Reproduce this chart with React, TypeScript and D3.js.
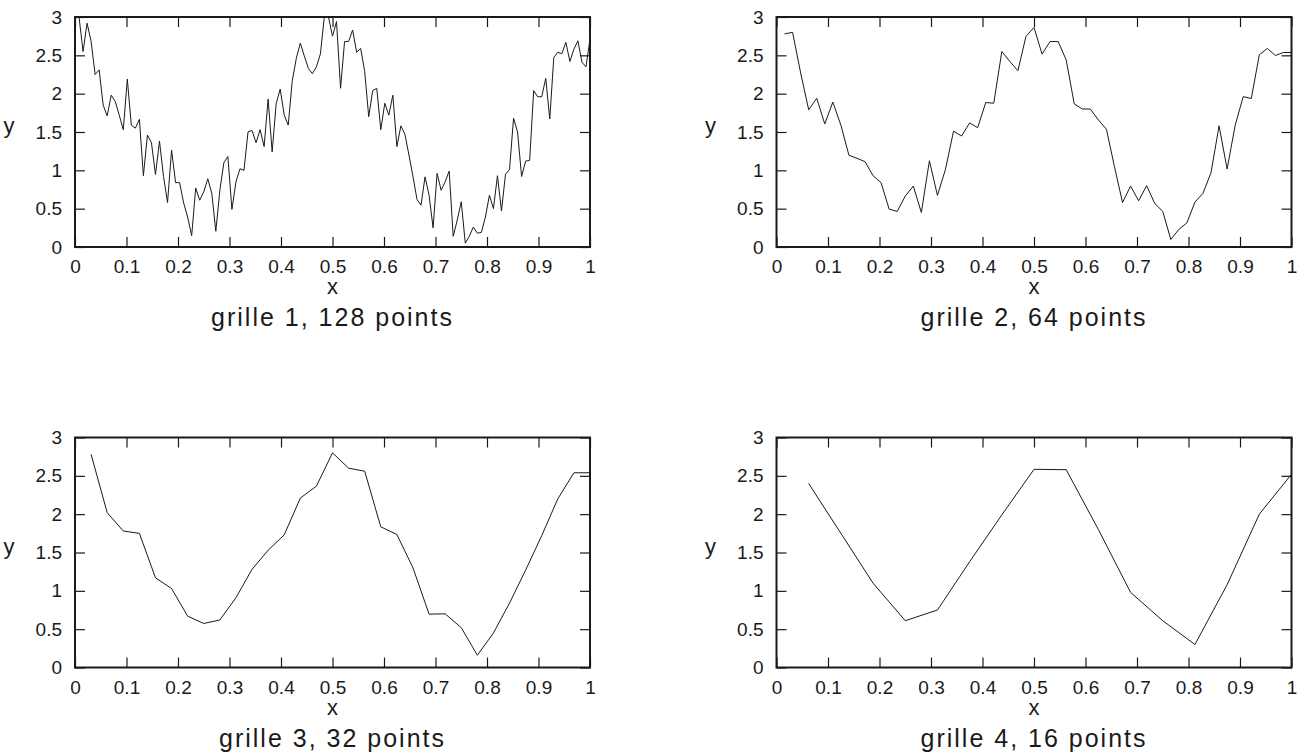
import React from 'react';
import * as d3 from "d3";

// y values on each grid, x = k / n (k = 1..n)
const grid128 = [
    3.0, 2.55, 2.92, 2.68, 2.25, 2.31, 1.85, 1.71, 1.98, 1.90,
    1.72, 1.53, 2.19, 1.59, 1.55, 1.665, 0.93, 1.46, 1.36, 0.946,
    1.38, 0.92, 0.58, 1.265, 0.84, 0.84, 0.575, 0.39, 0.148, 0.77,
    0.61, 0.72, 0.89, 0.70, 0.205, 0.74, 1.10, 1.18, 0.49, 0.85,
    1.02, 1.00, 1.50, 1.52, 1.36, 1.53, 1.31, 1.93, 1.24, 1.87,
    2.06, 1.72, 1.59, 2.17, 2.46, 2.66, 2.49, 2.33, 2.26, 2.35,
    2.52, 3.02, 3.0, 2.75, 2.94, 2.07, 2.68, 2.68, 2.83, 2.54,
    2.59, 2.29, 1.70, 2.04, 2.07, 1.53, 1.875, 1.72, 1.98, 1.31,
    1.58, 1.47, 1.2, 0.92, 0.62, 0.545, 0.915, 0.675, 0.25, 0.96,
    0.74, 0.85, 0.99, 0.14, 0.35, 0.59, 0.05, 0.14, 0.26, 0.18,
    0.19, 0.39, 0.675, 0.50, 0.93, 0.47, 0.95, 1.01, 1.68, 1.50,
    0.92, 1.12, 1.13, 2.04, 1.96, 1.96, 2.20, 1.67, 2.47, 2.54,
    2.52, 2.67, 2.42, 2.58, 2.69, 2.41, 2.35, 2.71
];

const grid64 = [
    2.78, 2.80, 2.27, 1.79, 1.94, 1.605, 1.89, 1.59, 1.196, 1.157,
    1.113, 0.93, 0.838, 0.494, 0.464, 0.664, 0.795, 0.45, 1.125, 0.673,
    1.013, 1.51, 1.448, 1.618, 1.557, 1.884, 1.876, 2.55, 2.42, 2.30,
    2.746, 2.864, 2.516, 2.68, 2.68, 2.44, 1.867, 1.80, 1.80, 1.657,
    1.536, 1.047, 0.58, 0.795, 0.603, 0.80, 0.569, 0.464, 0.098, 0.229,
    0.315, 0.586, 0.70, 0.97, 1.58, 1.017, 1.588, 1.962, 1.936, 2.507,
    2.59, 2.498, 2.537, 2.537
];

const grid32 = [
    2.78, 2.02, 1.78, 1.75, 1.17, 1.03, 0.67, 0.574, 0.62, 0.91,
    1.28, 1.53, 1.73, 2.21, 2.365, 2.80, 2.60, 2.56, 1.835, 1.735,
    1.30, 0.696, 0.70, 0.52, 0.16, 0.45, 0.84, 1.27, 1.72, 2.2,
    2.54, 2.54
];

const grid16 = [
    2.40, 1.75, 1.10, 0.61, 0.75, 1.38, 1.99, 2.585, 2.58, 1.80,
    0.98, 0.61, 0.30, 1.08, 2.0, 2.52
];

const titles = ["grille 1, 128 points", "grille 2, 64 points", "grille 3, 32 points", "grille 4, 16 points"];
const xTicks = [0, 0.1, 0.2, 0.3, 0.4, 0.5, 0.6, 0.7, 0.8, 0.9, 1];
const yTicks = [0, 0.5, 1, 1.5, 2, 2.5, 3];

class App extends React.Component {
    constructor(props) {
        super(props);
        this.myRef = React.createRef(); // need ref for d3 to select
    }

    componentDidMount() {
        this.drawChart();
    }

    drawChart() {
        const width = 1309, height = 756;
        const font = "'Liberation Sans', Arial, Helvetica, sans-serif";
        const ink = "#1a1a1a";

        const root = d3.select(this.myRef.current);
        root.selectAll("*").remove();

        const svg = root.append("svg")
            .attr("width", width)
            .attr("height", height)
            .style("position", "absolute")
            .style("left", 0)
            .style("top", 0)
            .style("background", "#fff");

        const panelW = 515, panelH = 230;
        const panels = [
            { data: grid128, left: 75, top: 17 },
            { data: grid64, left: 776.5, top: 17 },
            { data: grid32, left: 75, top: 437.5 },
            { data: grid16, left: 776.5, top: 437.5 }
        ];

        panels.forEach((p, i) => {
            const g = svg.append("g")
                .attr("transform", `translate(${ p.left },${ p.top })`);

            const x = d3.scaleLinear().domain([0, 1]).range([0, panelW]);
            const y = d3.scaleLinear().domain([0, 3]).range([panelH, 0]);

            const clipId = "clip" + i;
            g.append("clipPath").attr("id", clipId)
                .append("rect")
                .attr("width", panelW)
                .attr("height", panelH);

            const n = p.data.length;
            const pts = p.data.map((v, k) => ({ x: (k + 1) / n, y: v }));

            g.append("path")
                .datum(pts)
                .attr("clip-path", `url(#${ clipId })`)
                .attr("fill", "none")
                .attr("stroke", ink)
                .attr("stroke-width", 1)
                .attr("d", d3.line()
                    .x(d => x(d.x))
                    .y(d => y(d.y))
                );

            // inward ticks on all four sides
            const axisStyle = sel => {
                sel.select(".domain").remove();
                sel.selectAll("line").attr("stroke", ink).attr("stroke-width", 1.2);
                sel.selectAll("text")
                    .attr("fill", ink)
                    .style("font-family", font)
                    .style("font-size", "19px");
            };

            g.append("g")
                .attr("transform", `translate(0,${ panelH })`)
                .call(d3.axisBottom(x).tickValues(xTicks).tickSizeInner(-10).tickSizeOuter(0).tickPadding(13).tickFormat(d3.format("")))
                .call(axisStyle);
            g.append("g")
                .call(d3.axisTop(x).tickValues(xTicks).tickSizeInner(-10).tickSizeOuter(0).tickFormat(""))
                .call(axisStyle);
            g.append("g")
                .call(d3.axisLeft(y).tickValues(yTicks).tickSizeInner(-10).tickSizeOuter(0).tickPadding(13).tickFormat(d3.format("")))
                .call(axisStyle);
            g.append("g")
                .attr("transform", `translate(${ panelW },0)`)
                .call(d3.axisRight(y).tickValues(yTicks).tickSizeInner(-10).tickSizeOuter(0).tickFormat(""))
                .call(axisStyle);

            g.append("rect")
                .attr("width", panelW)
                .attr("height", panelH)
                .attr("fill", "none")
                .attr("stroke", ink)
                .attr("stroke-width", 2);

            g.append("text")
                .attr("x", panelW / 2)
                .attr("y", panelH + 47)
                .attr("text-anchor", "middle")
                .attr("fill", ink)
                .style("font-family", font)
                .style("font-size", "22px")
                .text("x");

            g.append("text")
                .attr("x", -66)
                .attr("y", panelH / 2 + 1)
                .attr("text-anchor", "middle")
                .attr("fill", ink)
                .style("font-family", font)
                .style("font-size", "22px")
                .text("y");

            g.append("text")
                .attr("x", panelW / 2)
                .attr("y", panelH + 79)
                .attr("text-anchor", "middle")
                .attr("fill", ink)
                .style("font-family", font)
                .style("font-size", "25px")
                .style("letter-spacing", "2px")
                .text(titles[i]);
        });
    }

    render() {
        return (
            <div ref={this.myRef}></div>
        );
    }
}

export default App;
